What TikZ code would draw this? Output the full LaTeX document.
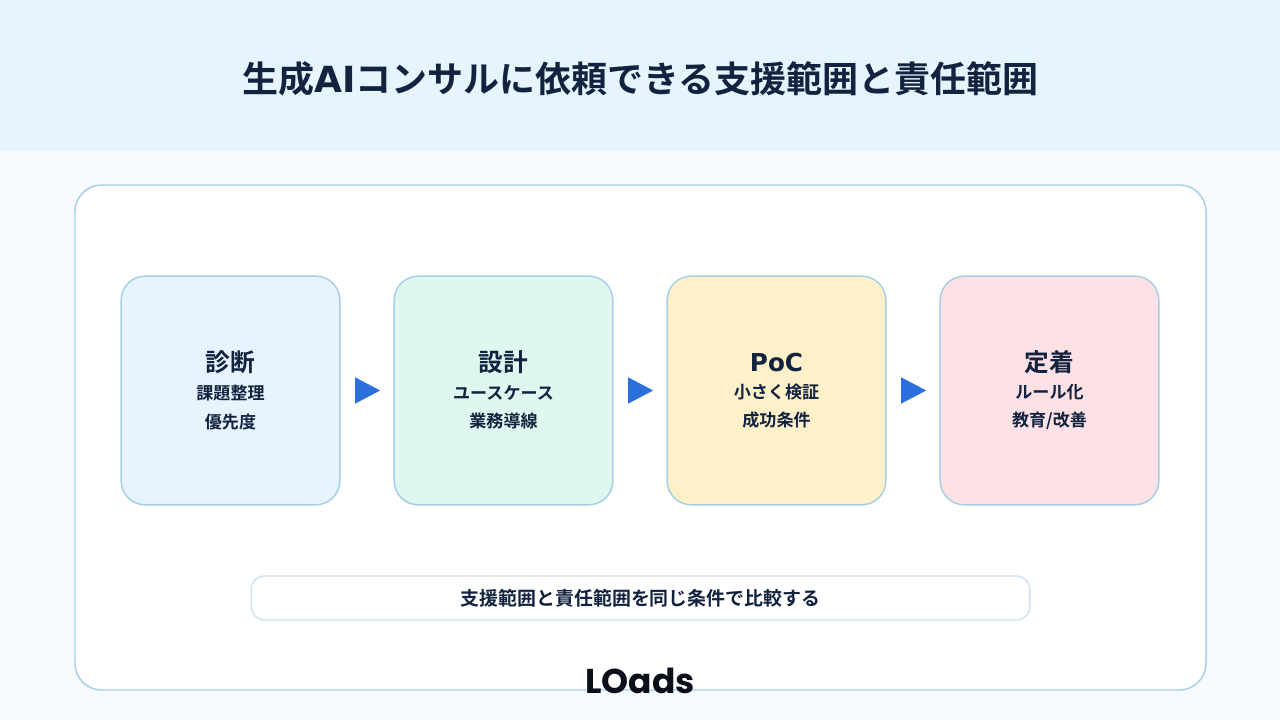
\documentclass[tikz,border=0pt]{standalone}
\usepackage{fontspec}
\usepackage{xcolor}
\setmainfont{Noto Sans CJK JP}[BoldFont={Noto Sans CJK JP Bold}]
\newfontfamily\logofont{Poppins}[BoldFont={Poppins Bold}]
\newfontfamily\latinfont{DejaVu Sans}[BoldFont={DejaVu Sans Bold}]
\usetikzlibrary{arrows.meta}
\usetikzlibrary{positioning}
\definecolor{inkblue}{HTML}{12233F}
\definecolor{pageblue}{HTML}{F5FBFF}
\definecolor{headblue}{HTML}{E6F4FE}
\definecolor{edgeblue}{HTML}{A6CFE6}
\definecolor{softedge}{HTML}{CFE0EA}
\definecolor{arrowblue}{HTML}{2A6FDB}
\definecolor{diagfill}{HTML}{E7F3FE}
\definecolor{designfill}{HTML}{DFF7EF}
\definecolor{pocfill}{HTML}{FEF0C8}
\definecolor{fixfill}{HTML}{FEE1E5}
\definecolor{logoink}{HTML}{0B0F1A}
\tikzset{
  stepbox/.style={draw=edgeblue,line width=1.1pt,rounded corners=18pt,minimum width=164pt,minimum height=171.5pt,outer sep=0pt,inner sep=0pt},
  headtext/.style={text=inkblue,font=\bfseries\fontsize{18.5pt}{22pt}\selectfont,inner sep=0pt},
  subtext/.style={text=inkblue,font=\bfseries\fontsize{12.8pt}{15pt}\selectfont,inner sep=0pt},
  flowarrow/.style={arrowblue,line width=1pt,-{Triangle[length=18.8pt,width=19.5pt]},shorten <=11.2pt,shorten >=10.5pt}
}
\begin{document}
\begin{tikzpicture}[x=0.75pt,y=0.75pt,node distance=40.75pt]
  \useasboundingbox (0,0) rectangle (1280,720);
  \fill[pageblue] (0,0) rectangle (1280,720);
  \fill[headblue] (0,569) rectangle (1280,720);
  \node[text=inkblue,font=\bfseries\fontsize{27pt}{32pt}\selectfont,inner sep=0pt] (title) at (640.5,641) {生成{\latinfont AI}コンサルに依頼できる支援範囲と責任範囲};

  \draw[edgeblue,line width=1.1pt,fill=white,rounded corners=20pt] (75,30) rectangle (1206,535);

  % four steps
  \node[stepbox,fill=diagfill] (diag) at (230.5,329.5) {};
  \node[stepbox,fill=designfill,right=of diag] (design) {};
  \node[stepbox,fill=pocfill,right=of design] (poc) {};
  \node[stepbox,fill=fixfill,right=of poc] (fix) {};

  \node[headtext,yshift=21pt] (diaghead) at (diag) {診断};
  \node[subtext,yshift=-2pt] (diagone) at (diag) {課題整理};
  \node[subtext,yshift=-23.5pt] (diagtwo) at (diag) {優先度};

  \node[headtext,yshift=21pt] (designhead) at (design) {設計};
  \node[subtext,yshift=-2pt] (designone) at (design) {ユースケース};
  \node[subtext,yshift=-23pt] (designtwo) at (design) {業務導線};

  \node[headtext,yshift=21pt] (pochead) at (poc) {\latinfont PoC};
  \node[subtext,yshift=-1.5pt] (pocone) at (poc) {小さく検証};
  \node[subtext,yshift=-22.5pt] (poctwo) at (poc) {成功条件};

  \node[headtext,yshift=21pt] (fixhead) at (fix) {定着};
  \node[subtext,yshift=-1.5pt] (fixone) at (fix) {ルール化};
  \node[subtext,yshift=-23pt] (fixtwo) at (fix) {教育/改善};

  \draw[flowarrow] (diag) -- (design);
  \draw[flowarrow] (design) -- (poc);
  \draw[flowarrow] (poc) -- (fix);

  % note and logo
  \node[draw=softedge,line width=1pt,fill=white,rounded corners=10pt,minimum width=584pt,minimum height=33pt,inner sep=0pt,text=inkblue,font=\bfseries\fontsize{14.2pt}{17pt}\selectfont] (note) at (640.5,122) {支援範囲と責任範囲を同じ条件で比較する};
  \node[text=logoink,font=\logofont\bfseries\fontsize{25.8pt}{30pt}\selectfont,inner sep=0pt] (logo) at (640,39) {LOads};
\end{tikzpicture}
\end{document}
